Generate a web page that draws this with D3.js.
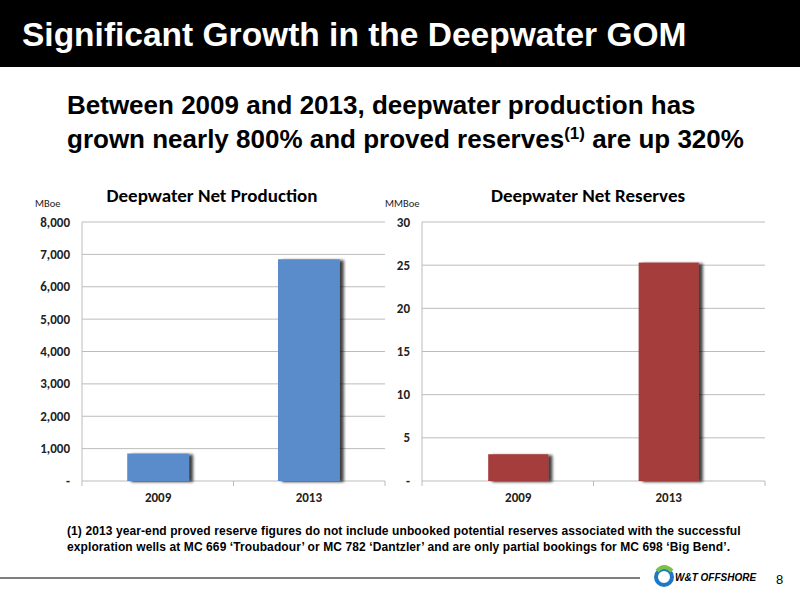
<!DOCTYPE html>
<html><head><meta charset="utf-8">
<script src="https://cdn.jsdelivr.net/npm/d3@7"></script>
<style>body{margin:0;background:#fff}</style>
</head><body>
<script>
years = ["2009", "2013"];
production = [850, 6850];
reserves = [3.1, 25.3];
prodTicks = [0, 1000, 2000, 3000, 4000, 5000, 6000, 7000, 8000];
resTicks = [0, 5, 10, 15, 20, 25, 30];

var svg = d3.select("body").append("svg").attr("width", 800).attr("height", 600)
    .style("font-family", "Liberation Sans, Arial, sans-serif");

var defs = svg.append("defs");
var f = defs.append("filter").attr("id", "shadow").attr("x", "-20%").attr("y", "-20%").attr("width", "150%").attr("height", "150%");
f.append("feDropShadow").attr("dx", 4).attr("dy", 1).attr("stdDeviation", 1.5).attr("flood-color", "#000").attr("flood-opacity", 0.75);

// header
svg.append("rect").attr("x", 0).attr("y", 0).attr("width", 800).attr("height", 67).attr("fill", "#000");
svg.append("text").attr("x", 22).attr("y", 46).attr("fill", "#fff").attr("font-size", 33.5).attr("font-weight", "bold")
    .text("Significant Growth in the Deepwater GOM");

var sub = svg.append("text").attr("font-size", 26).attr("font-weight", "bold").attr("fill", "#000");
sub.append("tspan").attr("x", 67).attr("y", 114).text("Between 2009 and 2013, deepwater production has");
sub.append("tspan").attr("x", 67).attr("y", 148).text("grown nearly 800% and proved reserves");
sub.append("tspan").attr("dy", -9).attr("font-size", 17).text("(1)");
sub.append("tspan").attr("dy", 9).text(" are up 320%");

// draws one bar chart
function drawChart(x0, x1, values, ticks, max, fmt, color, title, unit, unitX, titleX, pin, pout) {
    var x = d3.scaleBand().domain(years).range([x0, x1]).paddingInner(pin).paddingOuter(pout);
    var y = d3.scaleLinear().domain([0, max]).range([481, 222]);
    var g = svg.append("g").style("font-family", "Carlito, Calibri, Liberation Sans, sans-serif");

    g.selectAll(".grid").data(ticks).enter().append("line")
        .attr("x1", x0).attr("x2", x1).attr("y1", d => y(d)).attr("y2", d => y(d))
        .attr("stroke", "#bcbcbc").attr("stroke-width", 1);
    g.append("line").attr("x1", x0).attr("x2", x0).attr("y1", 222).attr("y2", 481).attr("stroke", "#bcbcbc");
    [x0, (x0 + x1) / 2, x1].forEach(function (t) {
        g.append("line").attr("x1", t).attr("x2", t).attr("y1", 481).attr("y2", 486).attr("stroke", "#bcbcbc");
    });
    g.selectAll(".tl").data(ticks).enter().append("text")
        .attr("x", x0 - 12).attr("y", d => y(d) + 4.5).attr("text-anchor", "end")
        .attr("font-size", 13).attr("font-weight", "bold").attr("fill", "#222")
        .text(d => d === 0 ? "-" : fmt(d));
    g.selectAll(".bar").data(values).enter().append("rect")
        .attr("x", (d, i) => x(years[i])).attr("width", x.bandwidth())
        .attr("y", d => y(d)).attr("height", d => 481 - y(d))
        .attr("fill", color).attr("filter", "url(#shadow)");
    g.selectAll(".xl").data(years).enter().append("text")
        .attr("x", d => x(d) + x.bandwidth() / 2).attr("y", 502).attr("text-anchor", "middle")
        .attr("font-size", 13).attr("font-weight", "bold").attr("fill", "#222").text(d => d);
    g.append("text").attr("x", titleX).attr("y", 202).attr("text-anchor", "middle")
        .attr("font-size", 19).attr("font-weight", "bold").attr("fill", "#000").text(title);
    g.append("text").attr("x", unitX).attr("y", 207).attr("font-size", 10.5).attr("fill", "#222").text(unit);
}

drawChart(82, 385, production, prodTicks, 8000, d3.format(","), "#5a8bcb",
    "Deepwater Net Production", "MBoe", 35, 212, 0.59, 0.30);
drawChart(422, 765, reserves, resTicks, 30, d3.format("d"), "#a43c3a",
    "Deepwater Net Reserves", "MMBoe", 385, 588, 0.6, 0.44);

// footnote
var fn = svg.append("text").attr("font-size", 12).attr("font-weight", "bold").attr("fill", "#000").attr("letter-spacing", 0.1);
fn.append("tspan").attr("x", 67).attr("y", 535).text("(1) 2013 year-end proved reserve figures do not include unbooked potential reserves associated with the successful");
fn.append("tspan").attr("x", 67).attr("y", 551).text("exploration wells at MC 669 \u2018Troubadour\u2019 or MC 782 \u2018Dantzler\u2019 and are only partial bookings for MC 698 \u2018Big Bend\u2019.");

svg.append("line").attr("x1", 0).attr("x2", 640).attr("y1", 578).attr("y2", 578).attr("stroke", "#555").attr("stroke-width", 1.5);
svg.append("circle").attr("cx", 664).attr("cy", 577).attr("r", 8).attr("fill", "none").attr("stroke", "#1e78c8").attr("stroke-width", 4);
svg.append("path").attr("d", "M657,571 Q664,563 672,571").attr("fill", "none").attr("stroke", "#7cc242").attr("stroke-width", 4);
svg.append("text").attr("x", 675).attr("y", 581).attr("font-size", 10).attr("font-weight", "bold").attr("font-style", "italic").text("W&T OFFSHORE");
svg.append("text").attr("x", 776).attr("y", 584).attr("font-size", 13).text("8");
</script>
</body></html>
